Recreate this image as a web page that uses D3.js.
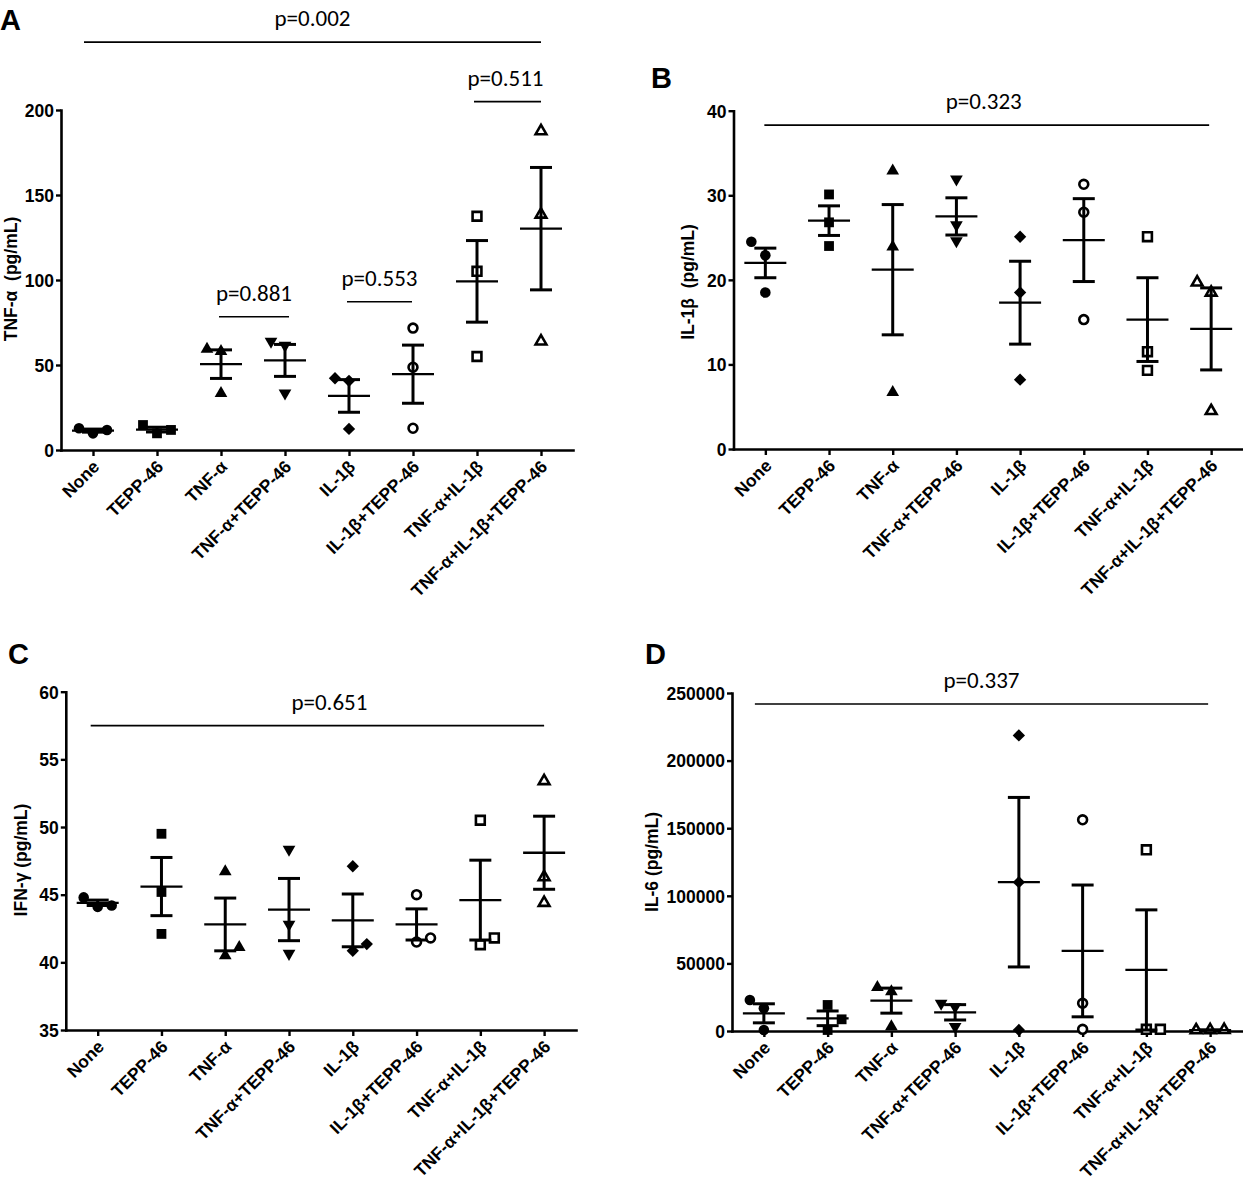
<!DOCTYPE html>
<html><head><meta charset="utf-8">
<script src="https://cdn.jsdelivr.net/npm/d3@7"></script>
<style>
body{margin:0;background:#fff}
svg{display:block}
.tk text{font-family:"Liberation Sans",Arial,sans-serif;font-weight:bold;font-size:17.5px;fill:#000}
.ttl{font-family:"Liberation Sans",Arial,sans-serif;font-weight:bold;font-size:17.5px;fill:#000;white-space:pre}
.pv{font-family:Carlito,Lato,"Open Sans",sans-serif;font-size:23px;fill:#000}
.let{font-family:"Liberation Sans",Arial,sans-serif;font-weight:bold;font-size:29px;fill:#000}
</style>
</head><body>
<svg id="chart" width="1243" height="1186"></svg>
<script>
// ---------- DATA ----------
const categories = ["None","TEPP-46","TNF-α","TNF-α+TEPP-46","IL-1β","IL-1β+TEPP-46","TNF-α+IL-1β","TNF-α+IL-1β+TEPP-46"];

// Panel A: TNF-α (pg/mL)
const tnfPoints = [[9.8,12.8,11.8],[9.8,14.7,11.8],[58,59.3,33.4],[61.5,63.9,33.4],[40.7,42.2,12.4],[71.7,48.7,12.8],[137.5,105.1,55],[187.6,138.5,63.9]];
const tnfMean = [11.4,12.0,50.5,52.7,31.8,44.6,99.2,130.2];
const tnfSem = [0.9,1.4,8.4,9.4,9.6,17.1,24.0,36.0];
const tnfTicks = [0,50,100,150,200];
const tnfComparisons = [{label:"p=0.002",from:0,to:7},{label:"p=0.511",from:6,to:7},{label:"p=0.881",from:2,to:3},{label:"p=0.553",from:4,to:5}];

// Panel B: IL-1β (pg/mL)
const il1Points = [[22.9,24.5,18.5],[30.1,26.8,24.0],[32.9,23.9,6.7],[31.9,26.5,24.6],[25.1,18.5,8.2],[31.3,28.0,15.3],[25.1,11.5,9.3],[18.5,19.7,4.5]];
const il1Mean = [22.0,27.0,21.2,27.5,17.3,24.7,15.3,14.2];
const il1Sem = [1.75,1.75,7.7,2.2,4.9,4.9,4.95,4.85];
const il1Ticks = [0,10,20,30,40];
const il1Comparisons = [{label:"p=0.323",from:0,to:7}];

// Panel C: IFN-γ (pg/mL)
const ifnPoints = [[44.1,44.8,44.2],[49.5,45.2,42.1],[46.7,40.5,41.1],[48.35,42.8,40.65],[47.1,40.85,41.35],[45.0,41.5,41.8],[50.5,41.3,41.8],[53.4,46.3,44.4]];
const ifnMean = [44.4,45.6,42.8,43.9,43.1,42.8,44.6,48.1];
const ifnSem = [0.2,2.15,1.95,2.3,1.95,1.15,2.95,2.7];
const ifnTicks = [35,40,45,50,55,60];
const ifnComparisons = [{label:"p=0.651",from:0,to:7}];

// Panel D: IL-6 (pg/mL)
const il6Points = [[16780,22950,740],[19250,740,8640],[29120,32330,3200],[17780,20480,3200],[218650,110070,740],[156220,20480,1230],[134010,1230,1230],[700,600,800]];
const il6Mean = [13080,9380,22460,13820,110070,59230,45160,700];
const il6Sem = [7040,5425,9255,5675,62690,48745,44430,60];
const il6Ticks = [0,50000,100000,150000,200000,250000];
const il6Comparisons = [{label:"p=0.337",from:0,to:7}];

// ---------- LAYOUT ----------
const panels = [
  {letter:"A",lx:0,ly:30,title:"TNF-α  (pg/mL)",tx:11,ty:279,points:tnfPoints,means:tnfMean,sems:tnfSem,ticks:tnfTicks,comps:tnfComparisons,
   domain:[0,200],x0:61,x1:573,yTop:110,yBot:450,sides:[-1,-1,-1,-1,-1,-1,-1,-1],
   levels:[{v:239.9,dl:-9,dr:0,td:0},{v:204.9,dl:-3,dr:0,td:-2},{v:78.4,dl:-2,dr:4,td:0},{v:87.2,dl:-2,dr:-1,td:0}]},
  {letter:"B",lx:651,ly:88,title:"IL-1β  (pg/mL)",tx:688,ty:282,points:il1Points,means:il1Mean,sems:il1Sem,ticks:il1Ticks,comps:il1Comparisons,
   domain:[0,40],x0:733.5,x1:1243,yTop:110.7,yBot:449,sides:[-1,-1,-1,-1,-1,-1,-1,-1],
   levels:[{v:38.3,dl:-1,dr:-2,td:-3}]},
  {letter:"C",lx:8,ly:664,title:"IFN-γ (pg/mL)",tx:21,ty:860,points:ifnPoints,means:ifnMean,sems:ifnSem,ticks:ifnTicks,comps:ifnComparisons,
   domain:[35,60],x0:65.8,x1:576,yTop:691.7,yBot:1030,sides:[-1,-1,1,1,1,1,1,-1],
   levels:[{v:57.49,dl:-7,dr:0,td:12}]},
  {letter:"D",lx:645,ly:664,title:"IL-6 (pg/mL)",tx:652,ty:862,points:il6Points,means:il6Mean,sems:il6Sem,ticks:il6Ticks,comps:il6Comparisons,
   domain:[0,250000],x0:732,x1:1242,yTop:693,yBot:1031,sides:[-1,1,-1,-1,-1,-1,1,-1],
   levels:[{v:241860,dl:-9,dr:-2,td:0}]}
];

const shapes = ["circle","square","triangle","triangleDown","diamond","circleOpen","squareOpen","triangleOpen"];
const INK = "#000";
const svg = d3.select("#chart");

function marker(g, shape, cx, cy){
  const open = shape.endsWith("Open");
  let path, rot = 0;
  if (shape==="circle") path = d3.symbol(d3.symbolCircle, 88)();
  else if (shape==="square") path = d3.symbol(d3.symbolSquare, 96)();
  else if (shape==="triangle") path = d3.symbol(d3.symbolTriangle, 70)();
  else if (shape==="triangleDown"){ path = d3.symbol(d3.symbolTriangle, 70)(); rot = 180; }
  else if (shape==="diamond"){ path = d3.symbol(d3.symbolSquare, 76)(); rot = 45; }
  else if (shape==="circleOpen") path = d3.symbol(d3.symbolCircle, 62)();
  else if (shape==="squareOpen") path = d3.symbol(d3.symbolSquare, 78)();
  else if (shape==="triangleOpen") path = d3.symbol(d3.symbolTriangle, 50)();
  g.append("path").attr("d", path)
    .attr("transform", `translate(${cx},${cy}) rotate(${rot})`)
    .attr("fill", open ? "#fff" : INK)
    .attr("stroke", open ? INK : "none")
    .attr("stroke-width", open ? 2.6 : 0)
    .attr("stroke-linejoin","miter");
}

panels.forEach(p => {
  const x = d3.scalePoint().domain(d3.range(categories.length)).range([p.x0, p.x1]).padding(0.5);
  const y = d3.scaleLinear().domain(p.domain).range([p.yBot, p.yTop]);
  const g = svg.append("g");

  // axes
  const ya = g.append("g").attr("class","tk").attr("transform",`translate(${p.x0},0)`)
    .call(d3.axisLeft(y).tickValues(p.ticks).tickSize(5).tickSizeOuter(0).tickPadding(2).tickFormat(d3.format("d")));
  const xa = g.append("g").attr("class","tk").attr("transform",`translate(0,${p.yBot})`)
    .call(d3.axisBottom(x).tickSize(6).tickSizeOuter(0).tickFormat(i => categories[i]));
  [ya, xa].forEach(a => {
    a.select(".domain").attr("stroke",INK).attr("stroke-width",2.6).attr("stroke-linecap","square");
    a.selectAll(".tick line").attr("stroke",INK).attr("stroke-width",2.4);
  });
  ya.selectAll(".tick text").attr("dy","0.36em");
  xa.selectAll(".tick text")
    .attr("text-anchor","end")
    .attr("y",0).attr("x",0).attr("dy","0.72em")
    .attr("transform","translate(-2,9) rotate(-45)");

  // axis title
  g.append("text").attr("class","ttl")
    .attr("transform",`translate(${p.tx},${p.ty}) rotate(-90)`)
    .attr("text-anchor","middle").attr("dominant-baseline","central")
    .text(p.title);

  // panel letter
  g.append("text").attr("class","let").attr("x",p.lx).attr("y",p.ly).text(p.letter);

  // points (GraphPad-style side-by-side spread for overlapping points)
  p.points.forEach((vals, i) => {
    const side = p.sides[i];
    const placed = [];
    vals.forEach(v => {
      const py = y(v);
      const order = [0, side, -side, 2*side, -2*side];
      for (const s of order){
        if (!placed.some(q => q.s===s && Math.abs(q.py-py) < 13.9)){ placed.push({py, s}); break; }
      }
    });
    placed.forEach(q => marker(g, shapes[i], x(i) + q.s*14, q.py));
  });

  // mean ± SEM
  p.means.forEach((m, i) => {
    const cx = x(i), s = p.sems[i];
    const yt = y(m + s), yb = y(m - s);
    const e = g.append("g").attr("stroke",INK).attr("fill","none");
    e.append("line").attr("x1",cx).attr("x2",cx).attr("y1",yt).attr("y2",yb).attr("stroke-width",3);
    e.append("line").attr("x1",cx-11).attr("x2",cx+11).attr("y1",yt).attr("y2",yt).attr("stroke-width",3);
    e.append("line").attr("x1",cx-11).attr("x2",cx+11).attr("y1",yb).attr("y2",yb).attr("stroke-width",3);
    e.append("line").attr("x1",cx-21).attr("x2",cx+21).attr("y1",y(m)).attr("y2",y(m)).attr("stroke-width",2.3);
  });

  // comparison brackets
  p.comps.forEach((c, k) => {
    const L = p.levels[k];
    const xl = x(c.from) + L.dl, xr = x(c.to) + L.dr, yy = y(L.v);
    g.append("line").attr("x1",xl).attr("x2",xr).attr("y1",yy).attr("y2",yy)
      .attr("stroke",INK).attr("stroke-width",1.6);
    g.append("text").attr("class","pv").attr("x",(xl+xr)/2 + L.td).attr("y",yy-16)
      .attr("text-anchor","middle").text(c.label);
  });
});
</script>
</body></html>
